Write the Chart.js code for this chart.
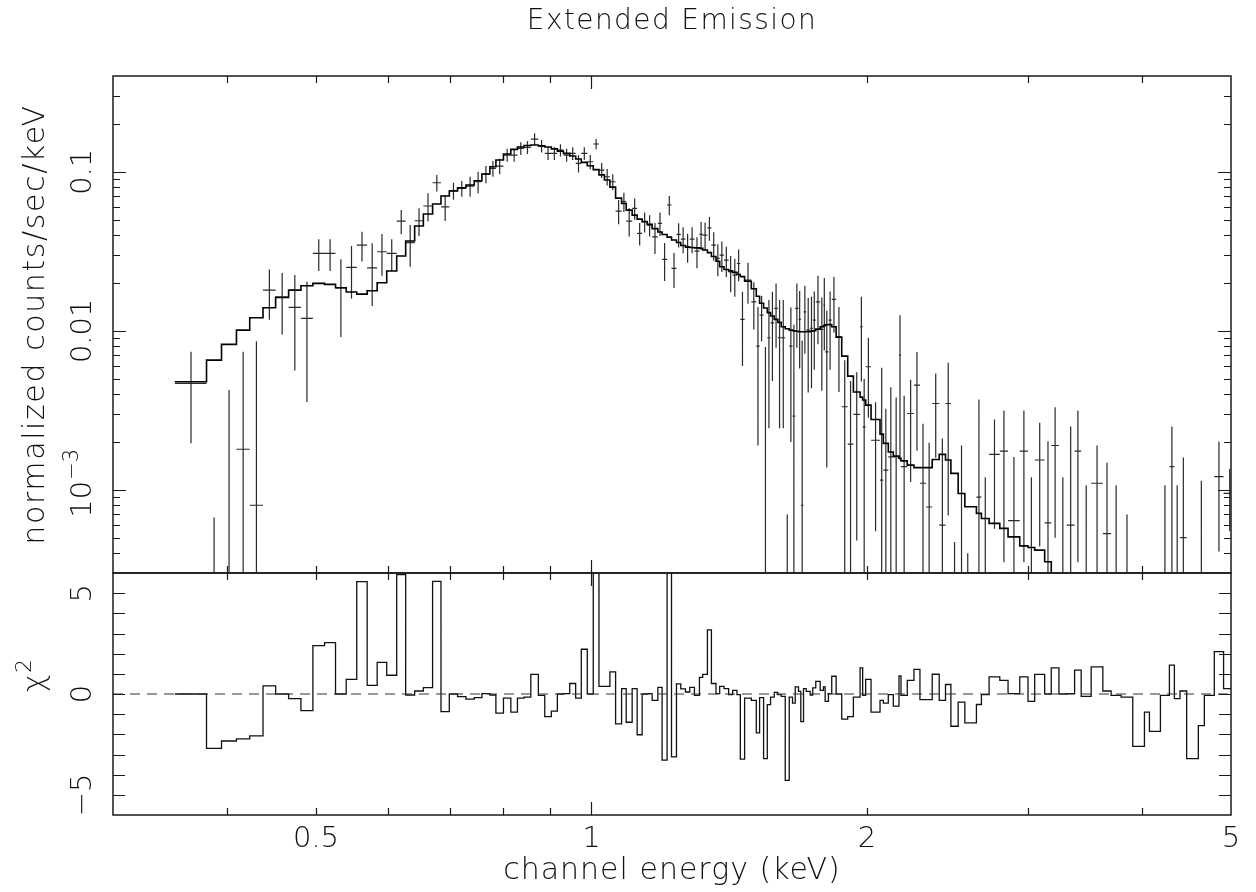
<!DOCTYPE html>
<html>
<head>
<meta charset="utf-8">
<title>Extended Emission</title>
<script src="https://cdn.jsdelivr.net/npm/chart.js@4.4.1/dist/chart.umd.min.js"></script>
<style>
  html, body { margin: 0; padding: 0; background: #fff; }
  #wrap { position: relative; width: 1256px; height: 892px; }
  #wrap canvas { position: absolute; left: 0; top: 0; }
</style>
</head>
<body>
<div id="wrap">
  <canvas id="specChart" width="1256" height="892"></canvas>
  <canvas id="residChart" width="1256" height="892"></canvas>
</div>
<script>
// channel bin edges (keV)
const binEdges = [
  0.3505, 0.3796, 0.3942, 0.4093, 0.4232, 0.4376, 0.4517, 0.4667, 0.4814, 0.4961,
  0.5109, 0.5252, 0.5395, 0.5540, 0.5687, 0.5832, 0.5974, 0.6126, 0.6266, 0.6409,
  0.6551, 0.6705, 0.6848, 0.6993, 0.7140, 0.7292, 0.7446, 0.7591, 0.7745, 0.7863,
  0.8014, 0.8164, 0.8301, 0.8441, 0.8585, 0.8750, 0.8892, 0.9040, 0.9178, 0.9321,
  0.9468, 0.9611, 0.9748, 0.9896, 1.0046, 1.0191, 1.0332, 1.0476, 1.0627, 1.0788,
  1.0914, 1.1079, 1.1219, 1.1361, 1.1505, 1.1650, 1.1818, 1.1946, 1.2097, 1.2232,
  1.2386, 1.2521, 1.2669, 1.2807, 1.2959, 1.3123, 1.3232, 1.3389, 1.3524, 1.3681,
  1.3809, 1.3959, 1.4124, 1.4267, 1.4422, 1.4545, 1.4703, 1.4953, 1.5142, 1.5268,
  1.5422, 1.5566, 1.5695, 1.5842, 1.5986, 1.6123, 1.6286, 1.6450, 1.6587, 1.6700,
  1.6839, 1.6936, 1.7052, 1.7168, 1.7341, 1.7454, 1.7586, 1.7782, 1.7930, 1.8006,
  1.8156, 1.8307, 1.8511, 1.8773, 1.9058, 1.9332, 1.9661,
  1.9789, 1.9939, 2.0211, 2.0673, 2.0845, 2.1108, 2.1375, 2.1683, 2.1792, 2.2140,
  2.2515, 2.2857, 2.3210, 2.3574, 2.3992, 2.4375, 2.4708, 2.5165, 2.5591, 2.5967,
  2.6348, 2.6681, 2.7202, 2.7943, 2.8531, 2.9382, 3.0000, 3.0509, 3.1285, 3.1808,
  3.2428, 3.3070, 3.3732, 3.4295, 3.5168, 3.6216, 3.6979, 3.7919, 3.9050, 4.0214,
  4.0722, 4.1863, 4.2820, 4.3361, 4.3975, 4.4721, 4.6054, 4.6754, 4.7942, 4.9075, 5.06
];

// normalized counts/sec/keV per bin
const rate = [
  0.00467, -0.0003, -0.0005, 0.0018, 0.0008, 0.01803, 0.01629, 0.01403, 0.01197, 0.0307,
  0.0307, 0.01864, 0.02504, 0.03459, 0.0249, 0.0314, 0.0307, 0.049, 0.0358, 0.0492,
  0.0609, 0.0853, 0.0602, 0.076, 0.0786, 0.0813, 0.0865, 0.0967, 0.105, 0.1086,
  0.1274, 0.1274, 0.1403, 0.1424, 0.1606, 0.1451, 0.1305, 0.1305, 0.1369, 0.1274,
  0.1305, 0.1129, 0.1305, 0.1156, 0.1494, 0.1025, 0.093, 0.0865, 0.0566, 0.0648,
  0.049, 0.0589, 0.041, 0.0485, 0.0462, 0.039, 0.0474, 0.0281, 0.0618, 0.0247,
  0.0404, 0.0377, 0.0338, 0.0377, 0.0317, 0.0404, 0.04, 0.0444, 0.0346, 0.0285,
  0.0299, 0.0278, 0.0235, 0.0224, 0.0265, 0.0118, 0.0208, 0.0152, 0.008, 0.01255,
  -0.003, 0.00904, 0.01123, 0.01383, 0.00904, 0.00904, -0.004, 0.008, 0.00291, 0.01383,
  0.0118, 0.0008, 0.01317, 0.0101, 0.01035, 0.01168, 0.01522, 0.0102, 0.01451, 0.00738,
  0.01168, 0.01576, 0.00913, 0.00333, 0.00194, 0.00298, 0.0106, 0.00249, 0.00594, 0.00205,
  0.00115, 0.00133, 0.00161, 0.00161, 0.00704, 0.0014, 0.00302, 0.00456, 0.0011, 0.00078,
  0.00349, 0.0006, 0.00349, -0.001, 0.0002, -0.0008, -0.001, 0.0009, 0.0002, 0.00167,
  0.00175, 0.00064, 0.00175, 0.0001, 0.00154, 0.00062, 0.0019, 0.0001, 0.0006, 0.00175,
  0.0001, 0.0011, 0.00053, 0.0001, 0.0001, -0.0006, -0.0002, -0.0004, 0.0001, 0.0014,
  0.0001, 0.0005, -0.0008, -0.0002, 0.0001, 0.00121, 0.00095
];

// 1-sigma errors on rate
const rateErr = [
  0.00271, 0.00097, 0.00474, 0.00558, 0.0078, 0.0063, 0.0068, 0.0084, 0.0084, 0.0069,
  0.0069, 0.0095, 0.0091, 0.0073, 0.0106, 0.0092, 0.0069, 0.0085, 0.0105, 0.0097,
  0.0123, 0.0101, 0.0111, 0.0093, 0.009, 0.0117, 0.0135, 0.012, 0.012, 0.012,
  0.012, 0.012, 0.013, 0.013, 0.014, 0.013, 0.012, 0.012, 0.012, 0.012,
  0.012, 0.014, 0.012, 0.012, 0.011, 0.011, 0.011, 0.01, 0.0098, 0.009,
  0.0099, 0.009, 0.0066, 0.007, 0.007, 0.0086, 0.008, 0.0075, 0.0086, 0.0061,
  0.007, 0.007, 0.007, 0.007, 0.007, 0.008, 0.008, 0.0076, 0.007, 0.0065,
  0.0065, 0.006, 0.006, 0.006, 0.006, 0.0058, 0.006, 0.005, 0.0061, 0.004,
  0.0109, 0.0066, 0.0064, 0.006, 0.0066, 0.0066, 0.0047, 0.006, 0.008, 0.006,
  0.006, 0.0079, 0.006, 0.006, 0.006, 0.006, 0.007, 0.006, 0.007, 0.006,
  0.006, 0.006, 0.005, 0.0032, 0.0029, 0.0025, 0.0058, 0.0025, 0.0031, 0.0015,
  0.0047, 0.0019, 0.0028, 0.0022, 0.0055, 0.0025, 0.0019, 0.0028, 0.0015, 0.0012,
  0.0019, 0.0015, 0.0028, 0.00147, 0.0017, 0.0012, 0.0012, 0.0028, 0.001, 0.0011,
  0.0014, 0.00097, 0.0014, 0.0011, 0.0011, 0.0014, 0.0014, 0.0011, 0.0019, 0.0014,
  0.00097, 0.0008, 0.00095, 0.00097, 0.0006, 0.0005, 0.0004, 0.0004, 0.00097, 0.0011,
  0.00097, 0.0011, 0.0006, 0.00134, 0.0001, 0.0008, 0.0004
];

// folded model per bin
const model = [
  0.00478, 0.00654, 0.00821, 0.0101, 0.01207, 0.01395, 0.01623, 0.01803, 0.01919, 0.01987,
  0.01958, 0.01864, 0.01752, 0.01701, 0.01785, 0.02004, 0.02375, 0.0295, 0.03666, 0.04555,
  0.0542, 0.06265, 0.07035, 0.07562, 0.0793, 0.08248, 0.08777, 0.09672, 0.1075, 0.1185,
  0.1292, 0.1383, 0.143, 0.1462, 0.1472, 0.1455, 0.143, 0.1393, 0.1349, 0.1305,
  0.1255, 0.1202, 0.1146, 0.1091, 0.1032, 0.0956, 0.0887, 0.0801, 0.0683, 0.0631,
  0.0574, 0.0534, 0.0504, 0.0486, 0.0467, 0.0439, 0.0418, 0.0403, 0.0388, 0.0372,
  0.0359, 0.0344, 0.0336, 0.0334, 0.0332, 0.033, 0.0322, 0.031, 0.0293, 0.0274,
  0.0253, 0.0243, 0.0238, 0.0233, 0.0226, 0.0219, 0.0205, 0.0184, 0.0165, 0.0149,
  0.0139, 0.013, 0.0124, 0.0118, 0.0113, 0.0106, 0.0103, 0.0101, 0.01, 0.00993,
  0.00987, 0.00986, 0.00986, 0.00986, 0.00993, 0.01, 0.01025, 0.0106, 0.01078, 0.01091,
  0.01094, 0.0106, 0.00913, 0.00693, 0.00519, 0.00412, 0.00383, 0.00367, 0.00341, 0.00277,
  0.00224, 0.00196, 0.00173, 0.00163, 0.00158, 0.00152, 0.00143, 0.00138, 0.00138, 0.00138,
  0.00155, 0.00167, 0.00154, 0.00127, 0.000949, 0.000782, 0.000782, 0.000711, 0.000661, 0.000615,
  0.000572, 0.000506, 0.000444, 0.000434, 0.000418, 0.000353, 0.00029, 0.00027, 0.00025, 0.00024,
  0.00022, 0.00021, 0.0002, 0.00019, 0.00018, 0.00017, 0.00016, 0.00015, 0.00014, 0.00013,
  0.00013, 0.00012, 0.00011, 0.00011, 0.0001, 0.0001, 0.00009
];

// chi^2 residuals per bin
const resid = [
  0, -2.7, -2.33, -2.23, -2.08, 0.4, 0, -0.23, -0.82, 2.4,
  2.55, 0, 0.73, 5.57, 0.43, 1.57, 0.93, 5.92, -0.05, 0.15,
  0.32, 5.58, -0.87, 0, -0.13, -0.25, -0.18, 0.02, -0.05, -0.95,
  -0.2, -0.9, -0.2, -0.15, 0.97, -0.07, -1.12, -0.85, 0, 0.02,
  0.52, -0.2, 2.22, 0, 7, 0.38, 0.38, 1.1, -1.48, 0.27,
  -1.4, 0.27, -2.02, 0, 0.02, -0.32, 0.33, -3.28, 7, -3.12,
  0.5, 0.25, 0.1, 0.33, -0.07, 0.82, 0.97, 3.18, 0.52, 0.02,
  0.38, 0.27, -0.03, 0.18, -0.03, -3.23, -0.2, -0.32, -1.93, -0.18,
  -3.2, -0.53, -0.15, 0.08, -0.03, -0.12, -4.28, -0.15, -0.45, 0.35,
  0.13, -1.37, 0.27, 0.13, -0.05, 0.3, 0.63, 0.18, 0.35, -0.37,
  0.02, 0.88, 0, -1.25, -1.12, -0.15, 1.3, -0.07, 0.73, -0.9,
  -0.32, -0.45, -0.03, -0.6, 0.9, -0.07, 0.68, 1.22, -0.28, -0.28,
  0.98, -0.32, 0.47, -1.6, -0.4, -1.43, -1.43, -0.52, -0.03, 0.85,
  0.68, 0.02, 0.85, -0.37, 0.97, 0, 1.3, 0, 0.02, 1.18,
  -0.12, 1.35, 0.15, -0.07, -0.15, -2.6, -0.9, -1.85, -0.07, 1.43,
  -0.23, 0.15, -3.2, -1.57, -0.07, 2.1, 0.27
];

// axes
const xMin = 0.3, xMax = 5;
const yTopMin = 3e-4, yTopMax = 0.4;
const yBotMin = -6, yBotMax = 6;
const xMajorTicks = [1];
const xMinorTicks = [0.4, 0.5, 0.6, 0.7, 0.8, 0.9, 2, 3, 4];
const xTickLabels = ['0.5', '1', '2', '5'];
const xTickValues = [0.5, 1, 2, 5];
const yTopMajor = [0.001, 0.01, 0.1];
const yTopMinor = [0.0004, 0.0005, 0.0006, 0.0007, 0.0008, 0.0009,
  0.002, 0.003, 0.004, 0.005, 0.006, 0.007, 0.008, 0.009,
  0.02, 0.03, 0.04, 0.05, 0.06, 0.07, 0.08, 0.09, 0.2, 0.3];
const yTopLabels = ['0.1', '0.01'];
const yTopLabelValues = [0.1, 0.01];
const yBotTicks = [-5, -4, -3, -2, -1, 0, 1, 2, 3, 4, 5];
const yBotLabels = ['5', '0', '\u22125'];
const yBotLabelValues = [5, 0, -5];

const FONT = '"DejaVu Sans", "Liberation Sans", sans-serif';
const INK = '#111';

// histogram outline: points on left bin edges, plus closing right edge
function histPoints(vals) {
  const pts = vals.map((v, i) => ({ x: binEdges[i], y: v }));
  pts.push({ x: binEdges[vals.length], y: vals[vals.length - 1] });
  return pts;
}

// crosses: horizontal bin width + vertical error bar
const xBars = [];
const yBars = [];
rate.forEach((r, i) => {
  const lo = binEdges[i], hi = binEdges[i + 1], mid = (lo + hi) / 2;
  if (r > 0) {
    xBars.push({ x: lo, y: r }, { x: hi, y: r }, { x: hi, y: null });
  }
  const top = r + rateErr[i];
  if (top > 0) {
    yBars.push({ x: mid, y: Math.max(r - rateErr[i], 1e-6) }, { x: mid, y: top }, { x: mid, y: null });
  }
});

function setFont(ctx, size, spacing) {
  ctx.font = '200 ' + size + 'px ' + FONT;
  ctx.letterSpacing = (spacing || 0) + 'px';
}

function vText(ctx, str, x, y, size, spacing) {
  ctx.save();
  ctx.translate(x, y);
  ctx.rotate(-Math.PI / 2);
  setFont(ctx, size, spacing);
  ctx.textAlign = 'center';
  ctx.textBaseline = 'alphabetic';
  ctx.fillText(str, 0, 0);
  ctx.restore();
}

// rotated base + superscript, centred on y
function vSup(ctx, base, sup, x, y, size) {
  ctx.save();
  ctx.translate(x, y);
  ctx.rotate(-Math.PI / 2);
  ctx.textBaseline = 'alphabetic';
  ctx.textAlign = 'left';
  const small = Math.round(size * 0.72);
  setFont(ctx, size);
  const w1 = ctx.measureText(base).width;
  setFont(ctx, small);
  const w2 = ctx.measureText(sup).width;
  const start = -(w1 + w2) / 2;
  setFont(ctx, size);
  ctx.fillText(base, start, 0);
  setFont(ctx, small);
  ctx.fillText(sup, start + w1 + 1, -size * 0.45);
  ctx.restore();
}

function makeFrame(xTicks, yTicks, drawText) {
  return {
    id: 'pgFrame',
    afterDraw(chart) {
      const { ctx, chartArea: a, scales } = chart;
      ctx.save();
      ctx.strokeStyle = '#1a1a1a';
      ctx.lineWidth = 1.5;
      ctx.strokeRect(a.left, a.top, a.right - a.left, a.bottom - a.top);
      ctx.lineWidth = 1.2;
      ctx.beginPath();
      xTicks.forEach(([v, len]) => {
        const px = Math.round(scales.x.getPixelForValue(v)) + 0.5;
        ctx.moveTo(px, a.top); ctx.lineTo(px, a.top + len);
        ctx.moveTo(px, a.bottom); ctx.lineTo(px, a.bottom - len);
      });
      yTicks.forEach(([v, len]) => {
        const py = Math.round(scales.y.getPixelForValue(v)) + 0.5;
        ctx.moveTo(a.left, py); ctx.lineTo(a.left + len, py);
        ctx.moveTo(a.right, py); ctx.lineTo(a.right - len, py);
      });
      ctx.stroke();
      ctx.fillStyle = INK;
      drawText(ctx, a, scales);
      ctx.restore();
    }
  };
}

const xTickList = xMajorTicks.map(v => [v, 13]).concat(xMinorTicks.map(v => [v, 7]));

const baseOpts = {
  responsive: false,
  animation: false,
  devicePixelRatio: 1,
  events: [],
  plugins: { legend: { display: false }, title: { display: false }, tooltip: { enabled: false } },
  elements: { point: { radius: 0 } }
};

// top panel: spectrum + model
new Chart(document.getElementById('specChart'), {
  type: 'line',
  data: {
    datasets: [
      { data: histPoints(model), stepped: 'before', borderColor: '#000', borderWidth: 1.6, clip: 0 },
      { data: xBars, borderColor: '#2a2a2a', borderWidth: 1.2, spanGaps: false, clip: 0 },
      { data: yBars, borderColor: '#2a2a2a', borderWidth: 1.2, spanGaps: false, clip: 0 }
    ]
  },
  options: Object.assign({}, baseOpts, {
    layout: { padding: { left: 113, right: 25, top: 76, bottom: 319 } },
    scales: {
      x: { type: 'logarithmic', min: xMin, max: xMax, display: false },
      y: { type: 'logarithmic', min: yTopMin, max: yTopMax, display: false }
    }
  }),
  plugins: [makeFrame(
    xTickList,
    yTopMajor.map(v => [v, 13]).concat(yTopMinor.map(v => [v, 7])),
    (ctx, a, scales) => {
      setFont(ctx, 28, 1.4);
      ctx.textAlign = 'center';
      ctx.textBaseline = 'alphabetic';
      ctx.fillText('Extended Emission', (a.left + a.right) / 2, 29);
      vText(ctx, 'normalized counts/sec/keV', 44, (a.top + a.bottom) / 2, 30, 1.6);
      yTopLabelValues.forEach((v, i) => {
        vText(ctx, yTopLabels[i], 91, scales.y.getPixelForValue(v), 29);
      });
      vSup(ctx, '10', '\u22123', 91, scales.y.getPixelForValue(0.001) - 6, 29);
    }
  )]
});

// bottom panel: residuals
new Chart(document.getElementById('residChart'), {
  type: 'line',
  data: {
    datasets: [
      { data: [{ x: xMin, y: 0 }, { x: xMax, y: 0 }], borderColor: '#333', borderWidth: 1.2, borderDash: [10, 7], clip: 0 },
      { data: histPoints(resid), stepped: 'before', borderColor: '#111', borderWidth: 1.3, clip: 0 }
    ]
  },
  options: Object.assign({}, baseOpts, {
    layout: { padding: { left: 113, right: 25, top: 573, bottom: 77 } },
    scales: {
      x: { type: 'logarithmic', min: xMin, max: xMax, display: false },
      y: { type: 'linear', min: yBotMin, max: yBotMax, display: false }
    }
  }),
  plugins: [makeFrame(
    xTickList,
    yBotTicks.map(v => [v, 12]),
    (ctx, a, scales) => {
      setFont(ctx, 29);
      ctx.textAlign = 'center';
      ctx.textBaseline = 'alphabetic';
      xTickValues.forEach((v, i) => {
        ctx.fillText(xTickLabels[i], scales.x.getPixelForValue(v), 847);
      });
      setFont(ctx, 30, 1);
      ctx.fillText('channel energy (keV)', (a.left + a.right) / 2, 879);
      yBotLabelValues.forEach((v, i) => {
        vText(ctx, yBotLabels[i], 91, scales.y.getPixelForValue(v), 29);
      });
      vSup(ctx, '\u03c7', '2', 44, 676, 30);
    }
  )]
});
</script>
</body>
</html>
